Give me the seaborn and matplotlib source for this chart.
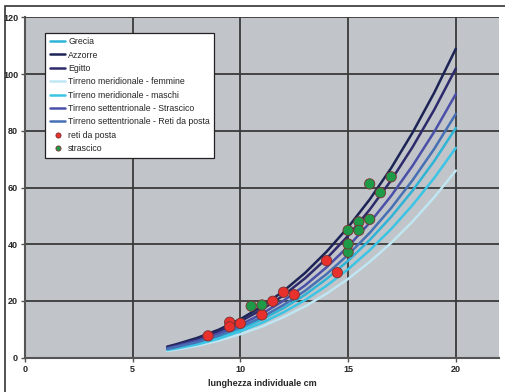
import numpy as np
import pandas as pd
import matplotlib
matplotlib.use("Agg")
import matplotlib.pyplot as plt
import seaborn as sns
from matplotlib.patches import Rectangle

# length-weight curves, values
lengths = [6.6, 7, 8, 9, 10, 11, 12, 13, 14, 15, 16, 17, 18, 19, 20]
curve_names = [
    "Grecia",
    "Azzorre",
    "Egitto",
    "Tirreno meridionale - femmine",
    "Tirreno meridionale - maschi",
    "Tirreno settentrionale - Strascico",
    "Tirreno settentrionale - Reti da posta",
]
grecia = [2.9, 3.5, 5.2, 7.4, 10.1, 13.5, 17.5, 22.2, 27.8, 34.2, 41.5, 49.7, 59.0, 69.4, 81.0]
azzorre = [3.9, 4.7, 7.0, 9.9, 13.6, 18.1, 23.5, 29.9, 37.4, 46.0, 55.8, 66.9, 79.5, 93.5, 109.0]
egitto = [3.7, 4.4, 6.5, 9.3, 12.8, 17.0, 22.0, 28.0, 35.0, 43.0, 52.2, 62.6, 74.4, 87.5, 102.0]
tirreno_femmine = [2.4, 2.8, 4.2, 6.0, 8.3, 11.0, 14.3, 18.1, 22.6, 27.8, 33.8, 40.5, 48.1, 56.6, 66.0]
tirreno_maschi = [2.7, 3.2, 4.7, 6.7, 9.3, 12.3, 16.0, 20.3, 25.4, 31.2, 37.9, 45.4, 53.9, 63.4, 74.0]
tirreno_strascico = [3.3, 4.0, 6.0, 8.5, 11.6, 15.5, 20.1, 25.5, 31.9, 39.2, 47.6, 57.1, 67.8, 79.7, 93.0]
tirreno_reti = [3.1, 3.7, 5.5, 7.8, 10.8, 14.3, 18.6, 23.6, 29.5, 36.3, 44.0, 52.8, 62.7, 73.7, 86.0]
curve_values = [grecia, azzorre, egitto, tirreno_femmine, tirreno_maschi,
                tirreno_strascico, tirreno_reti]
curve_colors = ["#2fb4d6", "#1c2456", "#2d2a6c", "#bfe6f2", "#3cc4e4",
                "#4a50a8", "#4770b4"]

# observed samples
reti_x = [8.5, 9.5, 9.5, 10.0, 11.0, 11.5, 12.0, 12.5, 14.0, 14.5]
reti_y = [7.7, 12.5, 10.9, 12.1, 15.1, 19.9, 23.1, 22.2, 34.2, 30.0]
strascico_x = [10.5, 11.0, 15.0, 15.0, 15.0, 15.5, 15.5, 16.0, 16.0, 16.5, 17.0]
strascico_y = [18.2, 18.6, 37.2, 40.1, 44.9, 47.9, 44.9, 48.8, 61.3, 58.2, 63.8]

rows = []
for name, vals in zip(curve_names, curve_values):
    for l, w in zip(lengths, vals):
        rows.append({"curva": name, "L": l, "W": w})
df_curves = pd.DataFrame(rows)
df_pts = pd.DataFrame({
    "L": reti_x + strascico_x,
    "W": reti_y + strascico_y,
    "tipo": ["reti da posta"] * len(reti_x) + ["strascico"] * len(strascico_x),
})

sns.set_style("white")
plt.rcParams["font.family"] = ["Liberation Sans", "DejaVu Sans"]

fig = plt.figure(figsize=(5.06, 3.92), dpi=100)
ax = fig.add_axes([0.0494, 0.0875, 0.9366, 0.8679])
ax.set_facecolor("#c1c4c9")

sns.lineplot(data=df_curves, x="L", y="W", hue="curva", hue_order=curve_names,
             palette=curve_colors, linewidth=1.8, ax=ax, zorder=3)
sns.scatterplot(data=df_pts, x="L", y="W", hue="tipo",
                palette={"reti da posta": "#e8312c", "strascico": "#1e9a48"},
                s=55, edgecolor="#7a3030", linewidth=0.6, ax=ax, zorder=4)

ax.set_xlim(0, 22)
ax.set_ylim(0, 120)
ax.set_xticks([0, 5, 10, 15, 20])
ax.set_yticks(range(0, 121, 20))
ax.grid(True, color="#3a3a3a", linewidth=1.3)
ax.set_axisbelow(True)
for s in ["top", "right"]:
    ax.spines[s].set_visible(False)
for s in ["left", "bottom"]:
    ax.spines[s].set_color("#555555")
    ax.spines[s].set_linewidth(1.5)
ax.tick_params(axis="both", length=3, width=1, color="#555555", labelsize=6.5,
               pad=2, direction="out", left=True, bottom=True)
for lab in ax.get_xticklabels() + ax.get_yticklabels():
    lab.set_fontweight("bold")
ax.set_ylabel("")
ax.set_xlabel("lunghezza individuale cm", fontsize=6.5, fontweight="bold", labelpad=4)

handles, labels = ax.get_legend_handles_labels()
leg = ax.legend(handles, labels, loc="upper left", bbox_to_anchor=(0.043, 0.955),
                fontsize=6.3, frameon=True, fancybox=False, handlelength=1.8,
                handletextpad=0.3, labelspacing=0.5, borderpad=0.5,
                markerscale=0.5, borderaxespad=0)
leg.get_frame().set_edgecolor("#222222")
leg.get_frame().set_linewidth(0.9)
leg.get_frame().set_facecolor("white")
leg.get_frame().set_alpha(1)

# outer frame lines of the original page
fig.add_artist(Rectangle((5 / 506, -0.1), 1.2, (392 - 6) / 392 + 0.1,
                         transform=fig.transFigure, fill=False,
                         edgecolor="#333333", linewidth=1.2))

fig.savefig("out.png", dpi=100)
